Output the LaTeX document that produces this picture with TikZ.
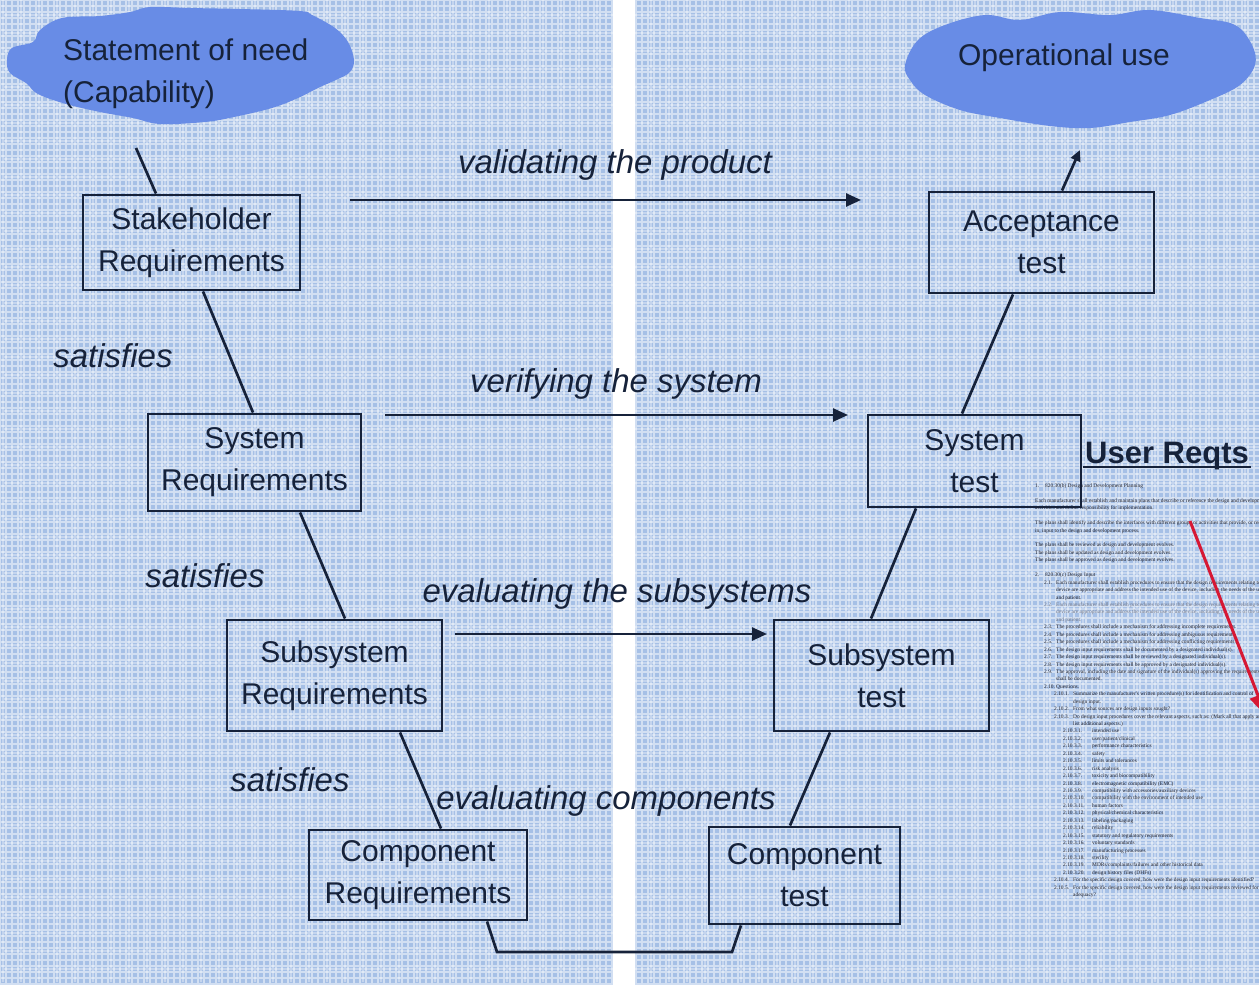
\documentclass[tikz,border=0pt]{standalone}
\usepackage{fontspec}
\setmainfont{Liberation Sans}
\newfontfamily\docserif{Liberation Serif}
\usetikzlibrary{arrows.meta,calc}

\definecolor{ink}{RGB}{22,34,58}
\definecolor{bgblue}{RGB}{166,192,230}
\definecolor{cloudblue}{RGB}{104,140,230}
\definecolor{doctext}{RGB}{28,30,42}
\definecolor{docfaint}{RGB}{110,116,134}
\definecolor{redarrow}{RGB}{214,24,52}

% indentation helpers for the regulation excerpt
\newcommand\lvA[2]{\makebox[10pt][l]{#1}#2}
\newcommand\lvB[2]{\hspace*{9pt}\makebox[12pt][l]{#1}#2}
\newcommand\lvBc[1]{\hspace*{21pt}#1}
\newcommand\lvC[2]{\hspace*{19pt}\makebox[19pt][l]{#1}#2}
\newcommand\lvCc[1]{\hspace*{38pt}#1}
\newcommand\lvD[2]{\hspace*{28pt}\makebox[29pt][l]{#1}#2}
\newcommand\gap{\mbox{}}

\begin{document}
\begin{tikzpicture}[x=1pt,y=-1pt,
  box/.style={draw=ink, line width=2.9pt, align=center, inner sep=0pt, text=ink,
              font=\fontsize{30}{42}\selectfont},
  lbl/.style={text=ink, font=\fontsize{33}{40}\selectfont\itshape, inner sep=0pt},
  conn/.style={draw=ink, line width=2.7pt},
  flow/.style={draw=ink, line width=2.5pt, -{Triangle[length=15pt,width=13pt]}},
  cloudtxt/.style={text=ink, font=\fontsize{30}{42}\selectfont, inner sep=0pt, align=left},
]
\useasboundingbox (0,0) rectangle (1259,985);
\clip (0,0) rectangle (1259,985);

% woven blue background
\fill[bgblue] (0,0) rectangle (1259,985);
\draw[white, opacity=.5, line width=1.3pt, step=6pt] (0,985) grid (1259,0);
\draw[white, opacity=.35, line width=2pt, step=18pt, shift={(3pt,3pt)}] (0,985) grid (1259,0);
\fill[white] (613,0) rectangle (635,985);

% regulation excerpt
\node[anchor=north west, inner sep=0pt, align=left, text=doctext,
      font=\docserif\fontsize{5.4}{7.44}\selectfont] (doc) at (1035,483.5) {%
\lvA{1.}{820.30(b) Design and Development Planning}\\
\gap\\
Each manufacturer shall establish and maintain plans that describe or reference the design and development\\
activities and define responsibility for implementation.\\
\gap\\
The plans shall identify and describe the interfaces with different groups or activities that provide, or result\\
in, input to the design and development process.\\
\gap\\
The plans shall be reviewed as design and development evolves.\\
The plans shall be updated as design and development evolves.\\
The plans shall be approved as design and development evolves.\\
\gap\\
\lvA{2.}{820.30(c) Design Input}\\
\lvB{2.1.}{Each manufacturer shall establish procedures to ensure that the design requirements relating to a}\\
\lvBc{device are appropriate and address the intended use of the device, including the needs of the user}\\
\lvBc{and patient.}\\
\textcolor{docfaint}{\lvB{2.2.}{Each manufacturer shall establish procedures to ensure that the design requirements relating to a}}\\
\textcolor{docfaint}{\lvBc{device are appropriate and address the intended use of the device, including the needs of the user}}\\
\textcolor{docfaint}{\lvBc{and patient.}}\\
\lvB{2.3.}{The procedures shall include a mechanism for addressing incomplete requirements.}\\
\lvB{2.4.}{The procedures shall include a mechanism for addressing ambiguous requirements.}\\
\lvB{2.5.}{The procedures shall include a mechanism for addressing conflicting requirements.}\\
\lvB{2.6.}{The design input requirements shall be documented by a designated individual(s).}\\
\lvB{2.7.}{The design input requirements shall be reviewed by a designated individual(s).}\\
\lvB{2.8.}{The design input requirements shall be approved by a designated individual(s).}\\
\lvB{2.9.}{The approval, including the date and signature of the individual(s) approving the requirements,}\\
\lvBc{shall be documented.}\\
\lvB{2.10.}{Questions.}\\
\lvC{2.10.1.}{Summarize the manufacturer's written procedure(s) for identification and control of}\\
\lvCc{design input.}\\
\lvC{2.10.2.}{From what sources are design inputs sought?}\\
\lvC{2.10.3.}{Do design input procedures cover the relevant aspects, such as: (Mark all that apply and}\\
\lvCc{list additional aspects.)}\\
\lvD{2.10.3.1.}{intended use}\\
\lvD{2.10.3.2.}{user/patient/clinical}\\
\lvD{2.10.3.3.}{performance characteristics}\\
\lvD{2.10.3.4.}{safety}\\
\lvD{2.10.3.5.}{limits and tolerances}\\
\lvD{2.10.3.6.}{risk analysis}\\
\lvD{2.10.3.7.}{toxicity and biocompatibility}\\
\lvD{2.10.3.8.}{electromagnetic compatibility (EMC)}\\
\lvD{2.10.3.9.}{compatibility with accessories/auxiliary devices}\\
\lvD{2.10.3.10.}{compatibility with the environment of intended use}\\
\lvD{2.10.3.11.}{human factors}\\
\lvD{2.10.3.12.}{physical/chemical characteristics}\\
\lvD{2.10.3.13.}{labeling/packaging}\\
\lvD{2.10.3.14.}{reliability}\\
\lvD{2.10.3.15.}{statutory and regulatory requirements}\\
\lvD{2.10.3.16.}{voluntary standards}\\
\lvD{2.10.3.17.}{manufacturing processes}\\
\lvD{2.10.3.18.}{sterility}\\
\lvD{2.10.3.19.}{MDRs/complaints/failures and other historical data}\\
\lvD{2.10.3.20.}{design history files (DHFs)}\\
\lvC{2.10.4.}{For the specific design covered, how were the design input requirements identified?}\\
\lvC{2.10.5.}{For the specific design covered, how were the design input requirements reviewed for}\\
\lvCc{adequacy?}};

% clouds
\fill[cloudblue] plot[smooth cycle, tension=0.6] coordinates {
  (7,60) (12,48) (33,42) (40,30) (62,18) (100,16) (130,12) (150,7) (190,8)
  (240,9) (300,11) (312,15) (335,28) (348,42) (354,60) (350,72) (338,79)
  (318,88) (298,98) (272,108) (234,117) (205,122) (160,124) (133,118)
  (100,112) (66,104) (38,94) (26,83) (10,73)};
\fill[cloudblue] plot[smooth cycle, tension=0.6] coordinates {
  (905,65) (918,40) (945,25) (985,15) (1020,20) (1060,12) (1110,15)
  (1150,10) (1200,18) (1235,25) (1252,45) (1255,65) (1240,85) (1210,100)
  (1170,115) (1130,122) (1090,128) (1050,126) (1000,118) (960,110)
  (925,95) (910,80)};
\node[cloudtxt, anchor=west] (need) at (63,74) {Statement of need\\(Capability)};
\node[cloudtxt] (opuse) at (1064,58) {Operational use};

% left leg: requirements
\node[box, minimum width=217pt, minimum height=95pt]  (sh)  at (191.5,242.5) {Stakeholder\\Requirements};
\node[box, minimum width=213pt, minimum height=97pt]  (sr)  at (254.5,462.5) {System\\Requirements};
\node[box, minimum width=215pt, minimum height=111pt] (ssr) at (334.5,675.5) {Subsystem\\Requirements};
\node[box, minimum width=218pt, minimum height=90pt]  (cr)  at (418,875)     {Component\\Requirements};

% right leg: tests
\node[box, minimum width=225pt, minimum height=101pt] (at)  at (1041.5,242.5) {Acceptance\\test};
\node[box, minimum width=213pt, minimum height=92pt]  (st)  at (974.5,461)    {System\\test};
\node[box, minimum width=215pt, minimum height=111pt] (sst) at (881.5,675.5)  {Subsystem\\test};
\node[box, minimum width=191pt, minimum height=97pt]  (ct)  at (804.5,875.5)  {Component\\test};

% V-shaped chain
\coordinate (needfoot) at (136,148);
\coordinate (vbaseL) at (497,952);
\coordinate (vbaseR) at (732,952);
\coordinate (usetip) at (1080,150);
\draw[conn] (needfoot) -- ([xshift=-35.5pt]sh.north);
\draw[conn] ([xshift=11.5pt]sh.south) -- ([xshift=-1.5pt]sr.north);
\draw[conn] ([xshift=45.5pt]sr.south) -- ([xshift=10.5pt]ssr.north);
\draw[conn] ([xshift=65.5pt]ssr.south) -- ([xshift=23pt]cr.north);
\draw[conn] ([xshift=69pt]cr.south) -- (vbaseL) -- (vbaseR) -- ([xshift=-63.5pt]ct.south);
\draw[conn] ([xshift=-14.5pt]ct.north) -- ([xshift=-51.5pt]sst.south);
\draw[conn] ([xshift=-10.5pt]sst.north) -- ([xshift=-58.5pt]st.south);
\draw[conn] ([xshift=-12.5pt]st.north) -- ([xshift=-28.5pt]at.south);
\draw[conn, -{Triangle[length=11pt,width=10pt]}] ([xshift=20.5pt]at.north) -- (usetip);

% horizontal relations
\coordinate (va) at (350,200);  \coordinate (vb) at (861,200);
\coordinate (ya) at (385,415);  \coordinate (yb) at (848,415);
\coordinate (ea) at (455,634);  \coordinate (eb) at (767,634);
\draw[flow] (va) -- (vb);
\draw[flow] (ya) -- (yb);
\draw[flow] (ea) -- (eb);

\node[lbl] (lval) at (615,165) {validating the product};
\node[lbl] (lver) at (616,384) {verifying the system};
\node[lbl] (lsub) at (617,594) {evaluating the subsystems};
\node[lbl] (lcmp) at (606,801) {evaluating components};
\node[lbl] (sat1) at (113,356) {satisfies};
\node[lbl] (sat2) at (205,576) {satisfies};
\node[lbl] (sat3) at (290,780) {satisfies};

% user requirements callout
\node[anchor=west, inner sep=0pt, text=ink, font=\fontsize{31}{36}\selectfont\bfseries] (ureq) at (1085,456) {User Reqts};
\draw[ink, line width=2pt] ([xshift=-2pt,yshift=-4pt]ureq.base west) -- ([xshift=2pt,yshift=-4pt]ureq.base east);

\coordinate (rfrom) at (1190,521);
\coordinate (rto) at (1266,716);
\draw[redarrow, line width=3pt, -{Triangle[length=22pt,width=17pt]}] (rfrom) -- (rto);
\end{tikzpicture}
\end{document}
